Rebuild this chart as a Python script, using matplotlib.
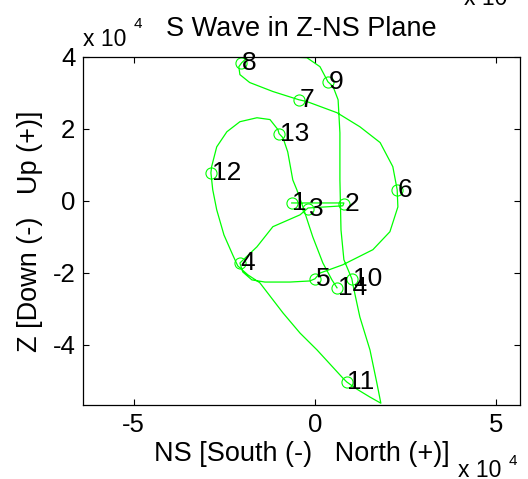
import matplotlib
matplotlib.use('Agg')
import matplotlib.pyplot as plt

# particle motion, NS and Z in units of 1e4
ns = [-0.64, 0.80, 0.77, -0.19, -0.41, -1.16, -1.60, -2.07, -1.99, -1.74,
      -1.38, -0.69, -0.14, 0.00, 0.14, 0.77, 1.60, 2.07, 2.29, 2.27,
      2.15, 1.80, 1.24, 0.61, -0.22, -0.44, -1.16, -1.80, -2.07, -2.10,
      -2.02, -1.85, -1.46, -0.69, -0.22, 0.14, 0.36, 0.50, 0.64, 0.69,
      0.69, 0.72, 0.80, 1.02, 1.05, 1.24, 1.52, 1.71, 1.82, 1.52,
      1.16, 0.88, 0.77, 0.06, -0.41, -0.88, -1.52, -1.85, -2.13, -2.27,
      -2.51, -2.71, -2.82, -2.87, -2.85, -2.71, -2.43, -2.07, -1.60, -1.24,
      -1.02, -0.99, -0.88, -0.75, -0.61, -0.50, -0.33, -0.06, 0.22, 0.47,
      0.61]
z = [-0.06, -0.06, -0.14, -0.20, -0.39, -0.72, -1.28, -1.73, -1.98, -2.20,
     -2.26, -2.26, -2.23, -2.17, -2.01, -1.78, -1.36, -0.86, -0.17, 0.31,
     0.95, 1.62, 2.06, 2.45, 2.76, 2.81, 3.04, 3.29, 3.51, 3.73,
     3.84, 4.00, 4.00, 4.00, 3.98, 3.73, 3.31, 3.18, 2.81, 1.89,
     0.58, -0.81, -1.64, -2.17, -2.34, -3.23, -4.15, -5.07, -5.63, -5.46,
     -5.24, -5.04, -4.93, -4.15, -3.68, -3.12, -2.28, -2.06, -1.81, -1.50,
     -0.95, -0.25, 0.31, 0.78, 0.95, 1.50, 1.92, 2.20, 2.31, 2.26,
     1.98, 1.87, 1.75, 1.36, 0.58, 0.31, -0.17, -1.00, -1.73, -2.20,
     -2.42]

# labelled samples
mark_ns = [-0.64, 0.80, -0.19, -2.07, 0.00, 2.27, -0.44, -2.04, 0.36, 1.02,
           0.88, -2.87, -0.99, 0.61]
mark_z = [-0.06, -0.08, -0.22, -1.73, -2.17, 0.31, 2.81, 3.82, 3.31, -2.17,
          -5.04, 0.78, 1.87, -2.42]
mark_labels = [str(i) for i in range(1, 15)]

plt.rcParams['font.family'] = ['Liberation Sans', 'DejaVu Sans']
plt.rcParams['axes.unicode_minus'] = False

W, H = 528, 479
fig = plt.figure(figsize=(W / 100, H / 100), dpi=100)
ax = fig.add_axes([83 / W, 1 - 405 / H, (520 - 83) / W, (405 - 57) / H])

green = '#00ff00'
ax.plot(ns, z, color=green, lw=0.9)
ax.plot(mark_ns, mark_z, 'o', ms=8, mfc='none', mec=green, mew=0.8)
for x, y, s in zip(mark_ns, mark_z, mark_labels):
    ax.annotate(s, (x, y), xytext=(0.5, 0), textcoords='offset points',
                ha='left', va='center', fontsize=19)

ax.set_xlim(-6.4, 5.66)
ax.set_ylim(-5.68, 4)
ax.set_xticks([-5, 0, 5])
ax.set_yticks([-4, -2, 0, 2, 4])
ax.tick_params(direction='in', top=True, right=True, length=4, width=0.8,
               labelsize=18.5, pad=5.5)
for sp in ax.spines.values():
    sp.set_linewidth(0.9)

ax.set_title('S Wave in Z-NS Plane', fontsize=19.5, pad=15)
ax.set_xlabel('NS [South (-)   North (+)]', fontsize=19.5, labelpad=3)
ax.set_ylabel('Z [Down (-)   Up (+)]', fontsize=19.5, labelpad=7)

# exponent labels, matlab style
def px(x, y):
    return x / W, 1 - y / H

fig.text(*px(83, 46), 'x 10', fontsize=16.5, ha='left', va='baseline')
fig.text(*px(134, 28), '4', fontsize=11, ha='left', va='baseline')
fig.text(*px(458, 477), 'x 10', fontsize=16.5, ha='left', va='baseline')
fig.text(*px(509, 465), '4', fontsize=11, ha='left', va='baseline')
# leftover from the panel above, cut by the page edge
fig.text(*px(464, 5), 'x 10', fontsize=16.5, ha='left', va='baseline')

fig.savefig('out.png', dpi=100)
